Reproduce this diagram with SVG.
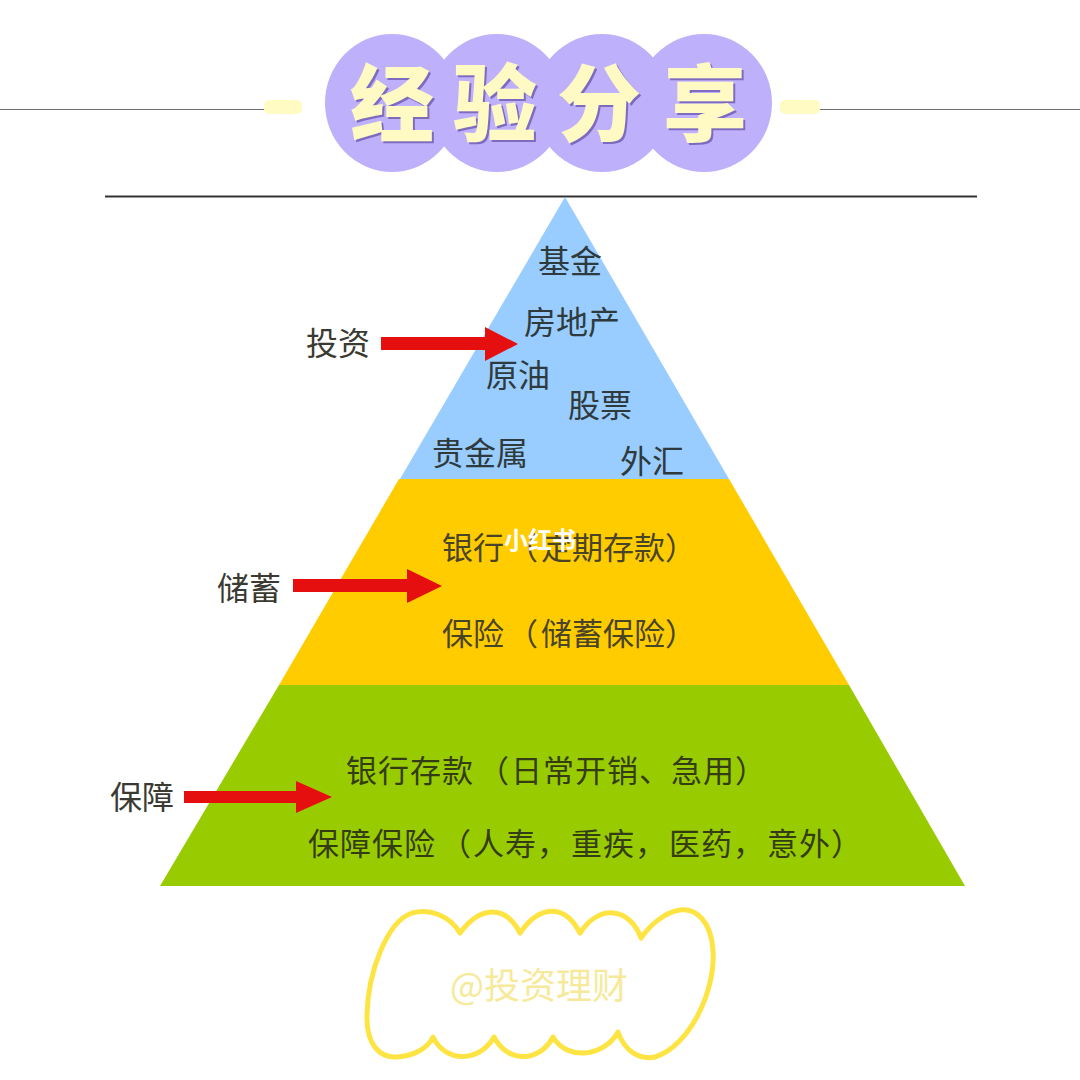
<svg xmlns="http://www.w3.org/2000/svg" width="1080" height="1080" viewBox="0 0 1080 1080">
<defs>
<style>
.cjk{font-family:"Noto Sans CJK SC","Noto Sans",sans-serif}
.lb{font-size:32px;fill:#3a3a32;font-weight:400}
.tier{font-size:31px;fill:#4a4426}
.tierg{font-size:31px;fill:#343c14}
.small{font-size:32px;fill:#2f3a3c}
.head{font-size:84px;font-weight:900;fill:#fff9c4;text-anchor:middle}
.headsh{font-size:84px;font-weight:900;fill:#7d6bc0;text-anchor:middle}
.arrow{fill:#e60f0f}
</style>
</defs>
<rect width="1080" height="1080" fill="#ffffff"/>
<g id="title">
<path d="M0 109.500H272M780 109.500H1080" stroke="#6e6e6e" stroke-width="1.200" fill="none"/>
<rect x="264" y="100" width="38" height="14" rx="5" fill="#fffbc2"/>
<rect x="780" y="100" width="40" height="14" rx="5" fill="#fffbc2"/>
<g fill="#bfb0fb">
<ellipse cx="392" cy="103" rx="67" ry="69"/>
<ellipse cx="497" cy="103" rx="68" ry="69"/>
<ellipse cx="602" cy="103" rx="68" ry="69"/>
<ellipse cx="704" cy="103" rx="68" ry="69"/>
</g>
<g class="cjk headsh">
<text x="394" y="137">经</text><text x="497" y="137">验</text><text x="601" y="137">分</text><text x="707" y="137">享</text>
</g>
<g class="cjk head">
<text x="392" y="135">经</text><text x="495" y="135">验</text><text x="599" y="135">分</text><text x="705" y="135">享</text>
</g>
</g>
<path id="rule" d="M105 196.500H977" stroke="#333333" stroke-width="2" fill="none"/>
<g id="tier-top">
<polygon points="565,197 729,479 400,479" fill="#99ccff"/>
<g class="cjk small">
<text x="538" y="273">基金</text>
<text x="524" y="334">房地产</text>
<text x="486" y="387">原油</text>
<text x="568" y="417">股票</text>
<text x="432" y="465">贵金属</text>
<text x="620" y="473">外汇</text>
</g>
</g>
<g id="tier-middle">
<polygon points="399,479 729,479 849,685 279,685" fill="#ffcc00"/>
<g class="cjk tier">
<text x="442 473 507 541 572 603 634 665" y="559">银行（定期存款）</text>
<text x="442 473 507 541 572 603 634 665" y="645">保险（储蓄保险）</text>
</g>
</g>
<g id="tier-bottom">
<polygon points="279,685 849,685 965,886 160,886" fill="#99cc00"/>
<g class="cjk tierg">
<text x="346 378 410 442 478 511 543 575 607 639 671 703 735" y="782">银行存款（日常开销、急用）</text>
<text x="308 340 372 404 440 473 505 537 571 603 635 669 701 733 767 799 831" y="855">保障保险（人寿，重疾，医药，意外）</text>
</g>
</g>
<g id="label-invest"><text class="cjk lb" x="306" y="355">投资</text></g>
<g id="label-savings"><text class="cjk lb" x="217" y="600">储蓄</text></g>
<g id="label-protect"><text class="cjk lb" x="110" y="809">保障</text></g>
<g id="connectors">
<polygon class="arrow" points="381,337 485,337 485,327 518,344 485,361 485,350 381,350"/>
<polygon class="arrow" points="293,579 407,579 407,569 442,586 407,603 407,592 293,592"/>
<polygon class="arrow" points="184,791 296,791 296,781 332,797 296,813 296,803 184,803"/>
</g>
<g id="watermark"><text class="cjk" x="504" y="549" font-size="24" font-weight="700" fill="#ffffff">小红书</text></g>
<g id="cloud">
<path d="M460 933C450 916 430 908 412 913C388 921 368 970 367 1015C366 1045 380 1058 397 1057C414 1056 428 1048 433 1037C446 1064 480 1062 494 1037C508 1064 540 1062 553 1037C568 1062 605 1056 618 1032C625 1052 640 1060 655 1057C690 1046 716 990 713 950C711 920 695 908 680 910C665 912 650 925 641 938C630 908 600 903 580 933C565 904 540 904 520 933C505 904 480 906 460 933Z" fill="#ffffff" stroke="#fde442" stroke-width="5" stroke-linejoin="round"/>
<text class="cjk" x="539" y="999" font-size="36" text-anchor="middle" fill="#f6ea9a">@投资理财</text>
</g>
</svg>
